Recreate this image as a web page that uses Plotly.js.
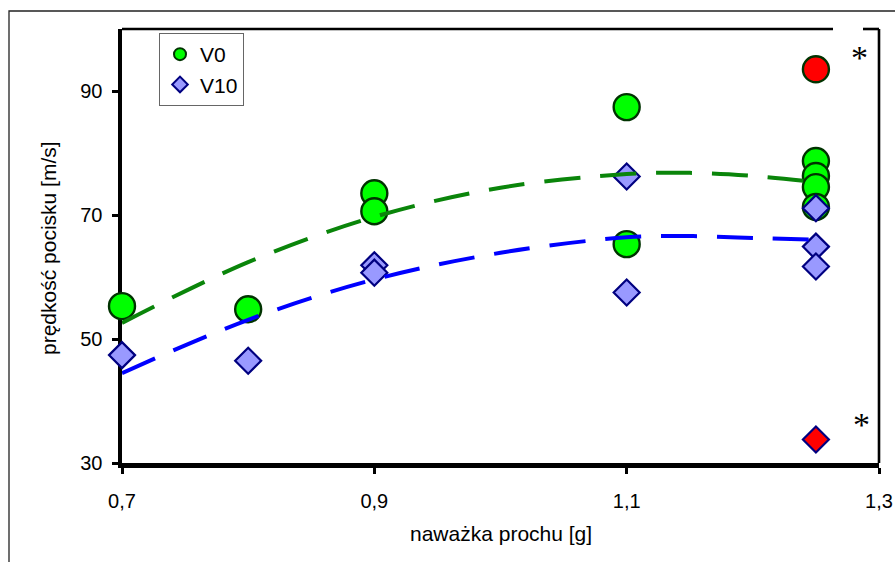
<!DOCTYPE html>
<html>
<head>
<meta charset="utf-8">
<script src="https://cdn.plot.ly/plotly-3.0.1.min.js"></script>
<style>html,body{margin:0;padding:0;background:#fff;}#chart{width:895px;height:562px;}</style>
</head>
<body>
<div id="chart"></div>
<script>
// ---- data ----
var v0X = [0.7, 0.8, 0.9, 0.9, 1.1, 1.1, 1.25, 1.25, 1.25, 1.25];
var v0Y = [55.3, 54.8, 73.5, 70.6, 87.4, 65.3, 78.7, 76.3, 74.5, 71.3];
var v10X = [0.7, 0.8, 0.9, 0.9, 1.1, 1.1, 1.25, 1.25, 1.25];
var v10Y = [47.4, 46.5, 61.9, 60.7, 76.2, 57.5, 71.1, 64.9, 61.7];
var outlierV0X = [1.25], outlierV0Y = [93.5];
var outlierV10X = [1.25], outlierV10Y = [33.8];
var trendX = [0.7, 0.8, 0.9, 1.0, 1.1, 1.15, 1.2, 1.25];
var trendV0 = [52.6, 62.4, 69.7, 74.4, 76.6, 76.8, 76.3, 75.3];
var trendV10 = [44.5, 53.1, 59.6, 63.9, 66.4, 66.6, 66.3, 66.0];
var xTicks = [0.7, 0.9, 1.1, 1.3];
var yTicks = [30, 50, 70, 90];
var seriesNames = ['V0', 'V10'];
var xTitle = 'naważka prochu [g]';
var yTitle = 'prędkość pocisku [m/s]';

var FONT = 'Arial, "Liberation Sans", sans-serif';
var L = 122, R = 879, T = 29, B = 463, W = 895, H = 562;
function px(x) { return (x - L) / (R - L); }
function py(y) { return (B - y) / (B - T); }

var circleStyle = {symbol: 'circle', size: 26, color: '#00ff00', line: {color: '#003300', width: 2.4}};
var diamondStyle = {symbol: 'diamond', size: 20, color: '#9999ff', line: {color: '#000080', width: 2.2}};

var traces = [
  {x: v0X, y: v0Y, type: 'scatter', mode: 'markers', name: seriesNames[0], legendgroup: 'a',
   marker: circleStyle, cliponaxis: false},
  {x: v10X, y: v10Y, type: 'scatter', mode: 'markers', name: seriesNames[1], legendgroup: 'b',
   marker: diamondStyle, cliponaxis: false},
  {x: outlierV0X, y: outlierV0Y, type: 'scatter', mode: 'markers', showlegend: false,
   marker: Object.assign({}, circleStyle, {color: '#ff0000'}), cliponaxis: false},
  {x: outlierV10X, y: outlierV10Y, type: 'scatter', mode: 'markers', showlegend: false,
   marker: Object.assign({}, diamondStyle, {color: '#ff0000'}), cliponaxis: false},
  {x: trendX, y: trendV0, type: 'scatter', mode: 'lines', showlegend: false,
   line: {color: '#0a850a', width: 4, dash: '36px,20px', shape: 'spline', smoothing: 1}},
  {x: trendX, y: trendV10, type: 'scatter', mode: 'lines', showlegend: false,
   line: {color: '#0000ff', width: 4, dash: '36px,20px', shape: 'spline', smoothing: 1}}
];

var layout = {
  width: W, height: H,
  margin: {l: L, r: W - R, t: T, b: H - B, pad: 0},
  paper_bgcolor: '#ffffff', plot_bgcolor: '#ffffff',
  separators: ', ',
  font: {family: FONT, color: '#000', size: 20},
  showlegend: true,
  legend: {
    x: px(159), y: py(33), xanchor: 'left', yanchor: 'top',
    bgcolor: '#ffffff', bordercolor: '#666666', borderwidth: 1,
    font: {family: FONT, size: 21, color: '#000'},
    itemsizing: 'constant', tracegroupgap: 0, itemwidth: 30
  },
  xaxis: {
    range: [0.7, 1.3], tickvals: xTicks, tickformat: '.1f',
    ticks: 'outside', ticklen: 6, tickwidth: 3, tickcolor: '#000',
    showline: true, linewidth: 4.5, linecolor: '#000',
    showgrid: false, zeroline: false, layer: 'below traces',
    tickfont: {family: FONT, size: 20, color: '#000'}, ticklabelstandoff: 10
  },
  yaxis: {
    range: [30, 100], tickvals: yTicks,
    ticks: 'outside', ticklen: 6, tickwidth: 3, tickcolor: '#000',
    showline: true, linewidth: 4.5, linecolor: '#000',
    showgrid: false, zeroline: false, layer: 'below traces',
    tickfont: {family: FONT, size: 20, color: '#000'}, ticklabelstandoff: 5
  },
  shapes: [
    {type: 'rect', xref: 'paper', yref: 'paper', x0: px(9), y0: py(600), x1: px(940), y1: py(11),
     line: {color: '#222', width: 1.3}, fillcolor: 'rgba(0,0,0,0)', layer: 'below'},
    {type: 'line', xref: 'paper', yref: 'paper', x0: 0, x1: px(833), y0: 1, y1: 1,
     line: {color: '#000', width: 2.6}},
    {type: 'line', xref: 'paper', yref: 'paper', x0: px(863), x1: 1, y0: 1, y1: 1,
     line: {color: '#000', width: 2.6}},
    {type: 'line', xref: 'paper', yref: 'paper', x0: 1, x1: 1, y0: 0, y1: 1,
     line: {color: '#000', width: 2.6}}
  ],
  annotations: [
    {text: xTitle, xref: 'paper', yref: 'paper', x: 0.5, y: py(533), xanchor: 'center', yanchor: 'middle',
     showarrow: false, font: {family: FONT, size: 21, color: '#000'}},
    {text: yTitle, xref: 'paper', yref: 'paper', x: px(48), y: py(248), xanchor: 'center', yanchor: 'middle',
     textangle: -90, showarrow: false, font: {family: FONT, size: 21, color: '#000'}},
    {text: '*', xref: 'paper', yref: 'paper', x: px(859), y: py(57), xanchor: 'center', yanchor: 'middle',
     showarrow: false, font: {family: '"Liberation Serif", "Times New Roman", serif', size: 34, color: '#000'}},
    {text: '*', xref: 'paper', yref: 'paper', x: px(861), y: py(424), xanchor: 'center', yanchor: 'middle',
     showarrow: false, font: {family: '"Liberation Serif", "Times New Roman", serif', size: 34, color: '#000'}}
  ]
};

Plotly.newPlot('chart', traces, layout, {staticPlot: true, displayModeBar: false});
</script>
</body>
</html>
